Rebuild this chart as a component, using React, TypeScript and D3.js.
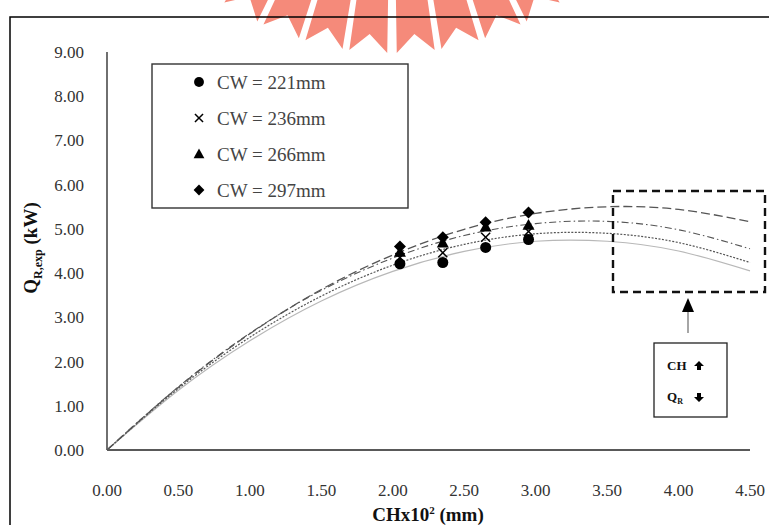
import React from "react";
import * as d3 from "d3";

// ---- data ----
const pointX = [2.05, 2.35, 2.65, 2.95];
const cw221 = [4.21, 4.24, 4.58, 4.76];
const cw236 = [4.35, 4.46, 4.81, 4.94];
const cw266 = [4.48, 4.69, 5.05, 5.09];
const cw297 = [4.6, 4.81, 5.15, 5.37];

// trend lines (read at 0.5 steps)
const fitX = [0, 0.5, 1, 1.5, 2, 2.5, 3, 3.5, 4, 4.5];
const fit221 = [0, 1.35, 2.47, 3.37, 4.04, 4.49, 4.72, 4.72, 4.5, 4.05];
const fit236 = [0, 1.39, 2.55, 3.48, 4.18, 4.65, 4.89, 4.9, 4.69, 4.24];
const fit266 = [0, 1.43, 2.64, 3.61, 4.34, 4.85, 5.12, 5.17, 4.98, 4.55];
const fit297 = [0, 1.42, 2.63, 3.63, 4.41, 4.99, 5.35, 5.5, 5.44, 5.16];

const xTicks = [0, 0.5, 1, 1.5, 2, 2.5, 3, 3.5, 4, 4.5];
const yTicks = [0, 1, 2, 3, 4, 5, 6, 7, 8, 9];
const legendLabels = ["CW = 221mm", "CW = 236mm", "CW = 266mm", "CW = 297mm"];

const SERIF = "'Liberation Serif', 'Times New Roman', serif";

function Marker({ kind, cx, cy, s = 1 }: { kind: string; cx: number; cy: number; s?: number }) {
  if (kind === "circle") return <circle cx={cx} cy={cy} r={5.5 * s} fill="#000" />;
  if (kind === "cross") {
    const d = 4.5 * s;
    return (
      <g stroke="#000" strokeWidth={1.5}>
        <line x1={cx - d} y1={cy - d} x2={cx + d} y2={cy + d} />
        <line x1={cx - d} y1={cy + d} x2={cx + d} y2={cy - d} />
      </g>
    );
  }
  if (kind === "triangle") {
    const h = 6 * s;
    return <path d={`M${cx},${cy - h}L${cx + h},${cy + h * 0.8}L${cx - h},${cy + h * 0.8}Z`} fill="#000" />;
  }
  const d = 6 * s;
  return <path d={`M${cx},${cy - d}L${cx + d},${cy}L${cx},${cy + d}L${cx - d},${cy}Z`} fill="#000" />;
}

// decorative watermark ribbons at the top
function Ribbons() {
  const cx = 392, cy = -250, rOut = 303, rIn = 200;
  const angles = [-30, -21.5, -13, -4.5, 4.5, 13, 21.5, 30];
  const half = 3.6;
  const pt = (r: number, a: number) => {
    const t = (a * Math.PI) / 180;
    return [cx + r * Math.sin(t), cy + r * Math.cos(t)];
  };
  return (
    <g fill="#f58a7a">
      {angles.map((a, i) => {
        const p1 = pt(rIn, a - half), p2 = pt(rOut, a - half), p3 = pt(rOut - 18, a), p4 = pt(rOut, a + half), p5 = pt(rIn, a + half);
        return <path key={i} d={`M${p1}L${p2}L${p3}L${p4}L${p5}Z`} />;
      })}
    </g>
  );
}

export default function App() {
  const x = d3.scaleLinear().domain([0, 4.5]).range([107, 750]);
  const y = d3.scaleLinear().domain([0, 9]).range([450, 52]);
  const fmt = d3.format(".2f");

  const line = d3
    .line<number>()
    .x((_, i) => x(fitX[i]))
    .y((v) => y(v))
    .curve(d3.curveNatural);

  const fits = [
    { data: fit221, stroke: "#b8b8b8", dash: "none", w: 1.2 },
    { data: fit236, stroke: "#555", dash: "2,1.5", w: 1.2 },
    { data: fit266, stroke: "#555", dash: "7,3,1.5,3", w: 1.1 },
    { data: fit297, stroke: "#555", dash: "9,4", w: 1.3 },
  ];
  const series = [
    { data: cw221, kind: "circle" },
    { data: cw236, kind: "cross" },
    { data: cw266, kind: "triangle" },
    { data: cw297, kind: "diamond" },
  ];

  return (
    <svg width={769} height={525} style={{ position: "absolute", left: 0, top: 0, background: "#fff" }} fontFamily={SERIF}>
      <rect x={0} y={0} width={769} height={525} fill="#fff" />
      <Ribbons />
      {/* outer frame */}
      <rect x={10} y={17} width={770} height={520} fill="none" stroke="#000" strokeWidth={1.5} />

      {/* axes */}
      <line x1={x(0)} y1={y(9)} x2={x(0)} y2={y(0)} stroke="#222" strokeWidth={1.3} />
      <line x1={x(0)} y1={y(0)} x2={x(4.5)} y2={y(0)} stroke="#222" strokeWidth={1.3} />

      {yTicks.map((t) => (
        <text key={t} x={84} y={y(t)} dy="0.35em" textAnchor="end" fontSize={17} fill="#333">
          {fmt(t)}
        </text>
      ))}
      {xTicks.map((t) => (
        <text key={t} x={x(t)} y={496} textAnchor="middle" fontSize={17} fill="#333">
          {fmt(t)}
        </text>
      ))}

      {/* axis titles */}
      <text x={428} y={521} textAnchor="middle" fontSize={19} fontWeight="bold" fill="#111">
        CHx10<tspan dy={-7} fontSize={11}>2</tspan>
        <tspan dy={7}> (mm)</tspan>
      </text>
      <text transform="translate(37,248) rotate(-90)" textAnchor="middle" fontSize={19} fontWeight="bold" fill="#111">
        Q<tspan dy={5} fontSize={12}>R,exp</tspan>
        <tspan dy={-5}> (kW)</tspan>
      </text>

      {/* trend lines */}
      {fits.map((f, i) => (
        <path key={i} d={line(f.data) || ""} fill="none" stroke={f.stroke} strokeWidth={f.w} strokeDasharray={f.dash} />
      ))}

      {/* points */}
      {series.map((s, si) => (
        <g key={si}>
          {s.data.map((v, i) => (
            <Marker key={i} kind={s.kind} cx={x(pointX[i])} cy={y(v)} />
          ))}
        </g>
      ))}

      {/* legend */}
      <rect x={152} y={64} width={256} height={144} fill="none" stroke="#333" strokeWidth={1.4} />
      {legendLabels.map((l, i) => (
        <g key={l}>
          <Marker kind={series[i].kind} cx={199} cy={82 + i * 36} s={0.9} />
          <text x={217} y={82 + i * 36} dy="0.35em" fontSize={19} fill="#444">
            {l}
          </text>
        </g>
      ))}

      {/* dashed zoom box */}
      <rect x={613} y={191} width={152} height={101} fill="none" stroke="#111" strokeWidth={2.4} strokeDasharray="8,5" />
      <line x1={688} y1={333} x2={688} y2={308} stroke="#888" strokeWidth={1.5} />
      <path d="M688,298L694,312L682,312Z" fill="#000" />

      {/* small annotation box */}
      <rect x={654} y={343} width={73} height={74} fill="#fff" stroke="#222" strokeWidth={1.3} />
      <text x={667} y={370} fontSize={13} fontWeight="bold" fill="#111">CH</text>
      <path d="M699,361L704,366L701,366L701,370L697,370L697,366L694,366Z" fill="#000" />
      <text x={667} y={401} fontSize={13} fontWeight="bold" fill="#111">
        Q<tspan dy={3} fontSize={8}>R</tspan>
      </text>
      <path d="M699,402L704,397L701,397L701,393L697,393L697,397L694,397Z" fill="#000" />
    </svg>
  );
}
